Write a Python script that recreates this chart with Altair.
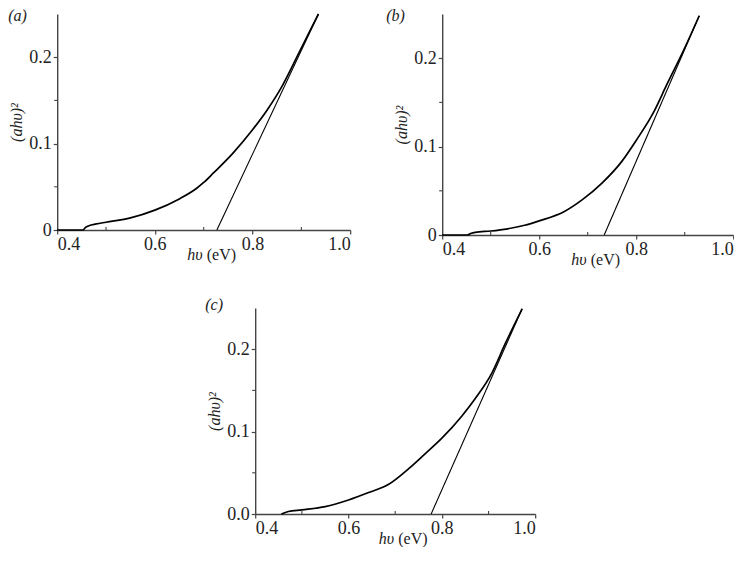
import altair as alt
import pandas as pd

SERIF = "Liberation Serif"

# ---- panel (a) ----
a_x = [0.40, 0.453, 0.458, 0.465, 0.48, 0.50, 0.55, 0.60, 0.65, 0.685, 0.70, 0.72, 0.76, 0.80, 0.83, 0.86, 0.895, 0.935]
a_y = [0.0, 0.0, 0.003, 0.005, 0.007, 0.009, 0.014, 0.023, 0.036, 0.048, 0.055, 0.066, 0.089, 0.116, 0.139, 0.166, 0.205, 0.250]
a_fit_x = [0.727, 0.935]
a_fit_y = [0.0, 0.250]

# ---- panel (b) ----
b_x = [0.40, 0.452, 0.46, 0.468, 0.50, 0.535, 0.57, 0.60, 0.65, 0.689, 0.73, 0.77, 0.80, 0.836, 0.863, 0.897, 0.93]
b_y = [0.0, 0.0, 0.002, 0.003, 0.0045, 0.007, 0.011, 0.016, 0.026, 0.040, 0.059, 0.083, 0.107, 0.139, 0.170, 0.208, 0.248]
b_fit_x = [0.734, 0.930]
b_fit_y = [0.0, 0.248]

# ---- panel (c) ----
c_x = [0.456, 0.471, 0.50, 0.55, 0.60, 0.643, 0.686, 0.729, 0.764, 0.80, 0.843, 0.87, 0.908, 0.936, 0.972]
c_y = [0.0, 0.003, 0.005, 0.009, 0.017, 0.026, 0.036, 0.055, 0.073, 0.092, 0.119, 0.139, 0.172, 0.207, 0.249]
c_fit_x = [0.777, 0.972]
c_fit_y = [0.0, 0.249]

x_major = [0.4, 0.6, 0.8, 1.0]
x_minor = [0.5, 0.7, 0.9]
y_major = [0.0, 0.1, 0.2]
y_minor = [0.05, 0.15]

AXIS_COLOR = "#444444"
TEXT_COLOR = "#222222"
FS = 18
TS = 16


def panel(cx, cy, fx, fy, w, h, label, yfmt, lab_dx, lab_dy):
    curve = pd.DataFrame({"x": cx, "y": cy})
    fit = pd.DataFrame({"x": fx, "y": fy})
    xscale = alt.Scale(domain=[0.4, 1.0], nice=False, zero=False)
    yscale = alt.Scale(domain=[0.0, 0.25], nice=False)
    xaxis = alt.Axis(values=x_major, format=".1f", title=None, grid=False,
                     domainColor=AXIS_COLOR, domainWidth=1.4, tickColor=AXIS_COLOR,
                     tickSize=4, tickWidth=1.2, labelFont=SERIF, labelFontSize=FS,
                     labelColor=TEXT_COLOR, labelPadding=1)
    yaxis = alt.Axis(values=y_major, format=yfmt, title="(ahυ)²", grid=False,
                     domainColor=AXIS_COLOR, domainWidth=1.4, tickColor=AXIS_COLOR,
                     tickSize=4, tickWidth=1.2, labelFont=SERIF, labelFontSize=FS,
                     labelColor=TEXT_COLOR, labelPadding=2,
                     titleFont=SERIF, titleFontSize=TS, titleFontStyle="italic",
                     titleFontWeight="normal", titleColor=TEXT_COLOR, titlePadding=4)
    X = alt.X("x:Q", scale=xscale, axis=xaxis)
    Y = alt.Y("y:Q", scale=yscale, axis=yaxis)

    line = alt.Chart(curve).mark_line(color="black", strokeWidth=1.7,
                                      interpolate="monotone").encode(x=X, y=Y)
    tang = alt.Chart(fit).mark_line(color="black", strokeWidth=1.1).encode(x=X, y=Y)

    xmin = alt.Chart(pd.DataFrame({"x": x_minor})).mark_rule(
        color=AXIS_COLOR, strokeWidth=1.1).encode(x=X, y=alt.value(h - 3), y2=alt.value(h))
    ymin = alt.Chart(pd.DataFrame({"y": y_minor})).mark_rule(
        color=AXIS_COLOR, strokeWidth=1.1).encode(y=Y, x=alt.value(-3), x2=alt.value(0))

    t1 = alt.Chart(pd.DataFrame({"t": ["hυ"]})).mark_text(
        font=SERIF, fontSize=TS, fontStyle="italic", align="right", baseline="middle",
        color=TEXT_COLOR).encode(text="t:N", x=alt.value(w / 2 - 1), y=alt.value(h + 25))
    t2 = alt.Chart(pd.DataFrame({"t": ["(eV)"]})).mark_text(
        font=SERIF, fontSize=TS, align="left", baseline="middle",
        color=TEXT_COLOR).encode(text="t:N", x=alt.value(w / 2 + 3), y=alt.value(h + 25))

    lab1 = alt.Chart(pd.DataFrame({"t": ["(" + label + ")"]})).mark_text(
        font=SERIF, fontSize=TS, fontStyle="italic", align="left", baseline="middle",
        color=TEXT_COLOR).encode(text="t:N", x=alt.value(lab_dx), y=alt.value(lab_dy))

    return alt.layer(line, tang, xmin, ymin, t1, t2, lab1).properties(width=w, height=h)


pa = panel(a_x, a_y, a_fit_x, a_fit_y, 293, 216, "a", ".1~f", -49, 2)
pb = panel(b_x, b_y, b_fit_x, b_fit_y, 291, 221, "b", ".1~f", -56, 2)
pc = panel(c_x, c_y, c_fit_x, c_fit_y, 280, 206, "c", ".1f", -50, -3)

top = alt.hconcat(pa, pb, spacing=35)
chart = alt.vconcat(top, pc, spacing=29, center=True).properties(
    padding=0).configure_view(stroke=None)

chart.save("out.html", embed_options={"renderer": "svg", "actions": False})
